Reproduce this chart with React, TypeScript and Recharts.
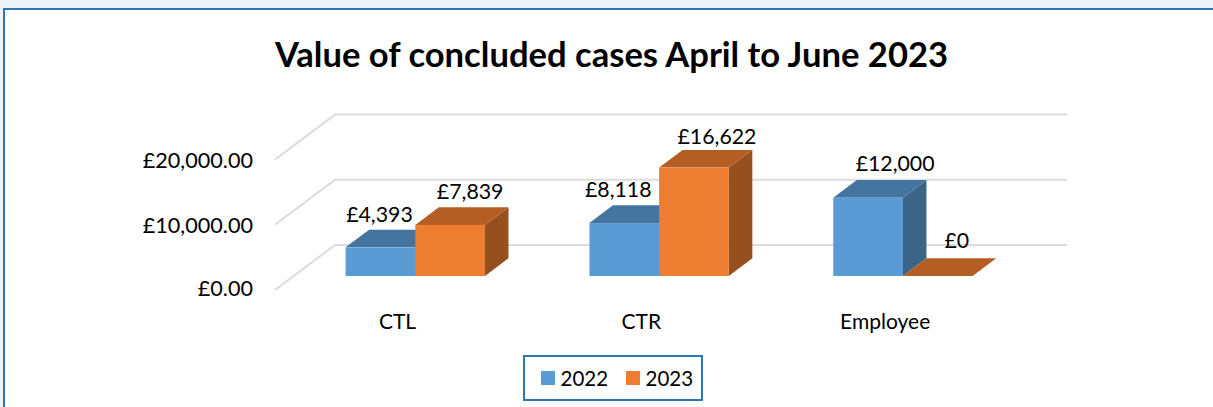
import React from "react";
import { BarChart, Bar, XAxis, YAxis, CartesianGrid, Legend, LabelList } from "recharts";

const categories = ["CTL", "CTR", "Employee"];
const values2022 = [4393, 8118, 12000];
const values2023 = [7839, 16622, 0];
const yTicks = [0, 10000, 20000];
const labelShift2022 = [-1, -6, 27];
const labelShift2023 = [20, 23, 19];
const labelLift2022 = [33, 34.5, 34.7];
const labelLift2023 = [34, 31.5, 36];
const FONT = "Lato, 'Open Sans', sans-serif";

const rows = categories.map((name, i) => ({ name, a: values2022[i], b: values2023[i] }));
const DX = 23.5;
const DY = 17.7;

const box3d = (top: string, side: string) => (p: any) => {
  const { x, y, width: w, height: h, fill } = p;
  return (
    <g>
      <polygon points={`${x + w},${y} ${x + w + DX},${y - DY} ${x + w + DX},${y + h - DY} ${x + w},${y + h}`} fill={side} />
      <polygon points={`${x},${y} ${x + DX},${y - DY} ${x + w + DX},${y - DY} ${x + w},${y}`} fill={top} />
      <rect x={x} y={y} width={w} height={h} fill={fill} />
    </g>
  );
};

const gridLine = (p: any) => (
  <path
    key={p.key ?? p.index ?? p.y1}
    d={`M${p.x1 - 18.6},${p.y1 + 14} L${p.x1 + 41.4},${p.y1 - 31} L${p.x1 + 773.4},${p.y1 - 31}`}
    fill="none"
    stroke="#DCDCDC"
    strokeWidth={2}
  />
);

const money = (v: number) => "£" + v.toLocaleString("en-GB");

const labelFor = (shifts: number[], lifts: number[]) => (p: any) => (
  <text
    x={p.x + p.width / 2 + shifts[p.index]}
    y={p.y - lifts[p.index]}
    textAnchor="middle"
    dominantBaseline="central"
    fontFamily={FONT}
    fontSize={21.3}
    fill="#000"
  >
    {money(Number(p.value))}
  </text>
);

const YTick = (p: any) => (
  <text x={253} y={p.y + (p.payload.value === 0 ? 11.5 : 14)} textAnchor="end" dominantBaseline="central" fontFamily={FONT} fontSize={21.6} fill="#000">
    {"£" + Number(p.payload.value).toLocaleString("en-GB", { minimumFractionDigits: 2 })}
  </text>
);

const XTick = (p: any) => (
  <text x={p.x - 18} y={320} textAnchor="middle" dominantBaseline="central" fontFamily={FONT} fontSize={21} fill="#000">
    {p.payload.value}
  </text>
);

const legendContent = (p: any) => (
  <div style={{ position: "relative", width: 180, height: 46, boxSizing: "border-box", border: "2px solid #2E75B6", background: "#fff" }}>
    {(p.payload || []).map((e: any, i: number) => (
      <div key={e.value} style={{ position: "absolute", left: 16 + i * 85, top: 0, height: 42, display: "flex", alignItems: "center", fontFamily: FONT, fontSize: 20.5, color: "#000" }}>
        <span style={{ display: "inline-block", width: 14, height: 14, background: e.color, marginRight: 6 }} />
        {e.value}
      </div>
    ))}
  </div>
);

export default function App() {
  return (
    <div style={{ position: "absolute", left: 0, top: 0, width: 1213, height: 407, overflow: "hidden", background: "#EEF3FA" }}>
      <div style={{ position: "absolute", left: 3, top: 8, width: 1210, height: 399, boxSizing: "border-box", background: "#fff", borderTop: "2px solid #2E75B6", borderLeft: "2px solid #2E75B6" }} />
      <div style={{ position: "absolute", left: 0, top: 0 }}>
        <BarChart
          width={1213}
          height={407}
          data={rows}
          barSize={69.7}
          barGap={0}
          margin={{ top: 145.6, right: 187.9, bottom: 45, left: 113.6 }}
          style={{ background: "transparent" }}
        >
          <CartesianGrid vertical={false} horizontal={gridLine} />
          <XAxis dataKey="name" height={40} axisLine={false} tickLine={false} tick={XTick} interval={0} />
          <YAxis width={180} domain={[0, 20000]} ticks={yTicks} axisLine={false} tickLine={false} tick={YTick} />
          <Legend
            verticalAlign="bottom"
            height={46}
            content={legendContent}
            wrapperStyle={{ position: "absolute", left: 522.5, top: 355, width: 180, height: 46, bottom: "auto" }}
          />
          <Bar dataKey="a" name="2022" fill="#5B9BD5" isAnimationActive={false} shape={box3d("#4674A1", "#3A6587")}>
            <LabelList dataKey="a" content={labelFor(labelShift2022, labelLift2022)} />
          </Bar>
          <Bar dataKey="b" name="2023" fill="#ED7D31" isAnimationActive={false} shape={box3d("#B55E23", "#964F1E")}>
            <LabelList dataKey="b" content={labelFor(labelShift2023, labelLift2023)} />
          </Bar>
          <text x={611.5} y={53.5} textAnchor="middle" dominantBaseline="central" fontFamily={FONT} fontWeight={700} fontSize={34.6} fill="#000">
            Value of concluded cases April to June 2023
          </text>
        </BarChart>
      </div>
    </div>
  );
}
